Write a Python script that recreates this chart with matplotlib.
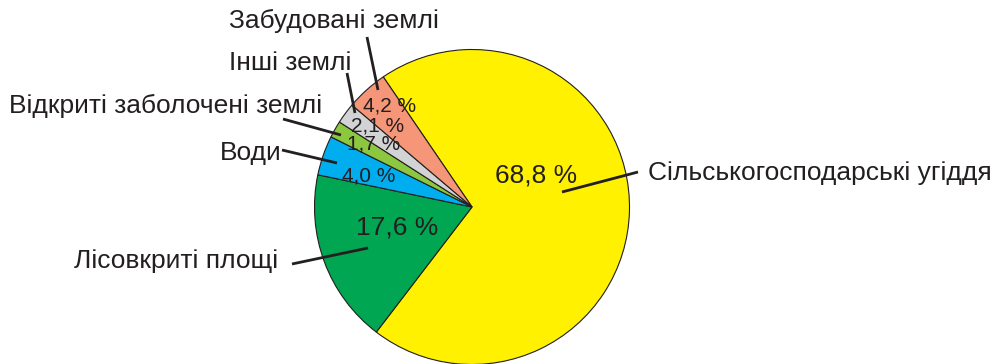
import matplotlib
matplotlib.use("Agg")
import matplotlib.pyplot as plt

plt.rcParams['font.family'] = ['Liberation Sans', 'DejaVu Sans']

# структура земельного фонду, %
categories = ['Сільськогосподарські угіддя', 'Лісовкриті площі', 'Води',
              'Відкриті заболочені землі', 'Інші землі', 'Забудовані землі']
shares = [68.8, 17.6, 4.0, 1.7, 2.1, 4.2]
colors = ['#FFF100', '#00A651', '#00AEEF', '#8DC63F', '#D1D3D4', '#F69679']

W, H = 1000, 364
ink = '#231F20'

fig = plt.figure(figsize=(W / 100, H / 100), dpi=100)
ax = fig.add_axes([0, 0, 1, 1])

ax.pie(shares, colors=colors, startangle=124.3, counterclock=False,
       center=(472, H - 207), radius=157.5,
       wedgeprops=dict(edgecolor=ink, linewidth=0.8))

ax.set_xlim(0, W)
ax.set_ylim(0, H)
ax.axis('off')

# підписи відсотків (x, базова лінія, розмір)
pct_pos = [(536, 182, 19), (397, 234, 19), (369, 182, 15),
           (374, 150, 15), (378, 132, 15), (390, 112, 15)]
for v, (x, y, fs) in zip(shares, pct_pos):
    ax.text(x, H - y, f"{v:.1f} %".replace('.', ','), ha='center',
            va='baseline', fontsize=fs, color=ink)

# назви категорій
name_pos = [(648, 180, 'left'), (278, 268, 'right'), (282, 160, 'right'),
            (322, 113, 'right'), (229, 70, 'left'), (229, 28, 'left')]
for name, (x, y, ha) in zip(categories, name_pos):
    ax.text(x, H - y, name, ha=ha, va='baseline', fontsize=19, color=ink)

# виноски
leaders = [((562, 192), (638, 172)), ((292, 264), (368, 248)),
           ((282, 150), (337, 163)), ((283, 119), (341, 135)),
           ((347, 73), (355, 113)), ((367, 37), (378, 90))]
for (x0, y0), (x1, y1) in leaders:
    ax.plot([x0, x1], [H - y0, H - y1], color=ink, linewidth=2,
            solid_capstyle='butt')

fig.savefig('out.png', dpi=100)
